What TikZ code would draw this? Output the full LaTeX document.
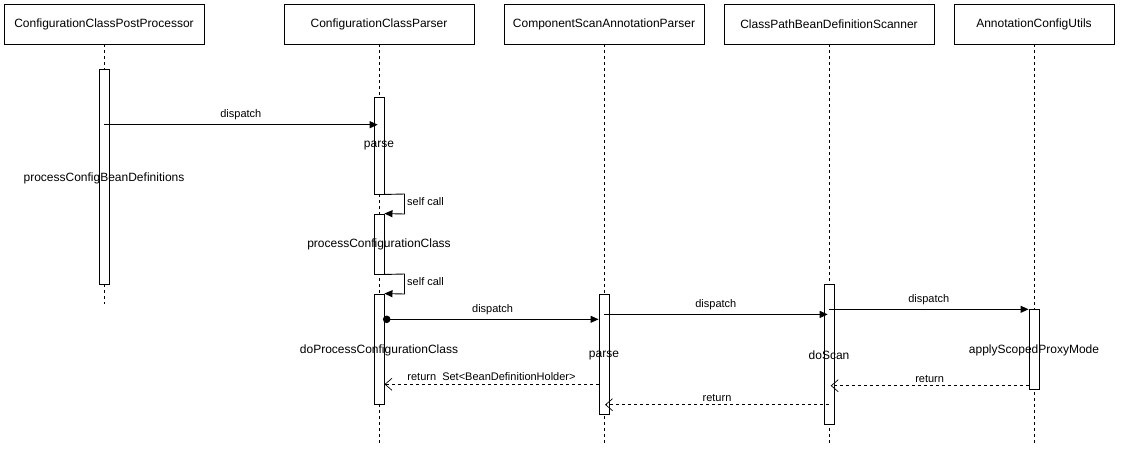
\documentclass[tikz,border=0pt]{standalone}
\usepackage{fontspec}
\setmainfont{Liberation Sans}
\usetikzlibrary{arrows.meta}
\begin{document}
\begin{tikzpicture}[x=1pt,y=-1pt,
  participant/.style={draw,line width=0.9pt,minimum height=40pt,inner sep=0pt,font=\fontsize{12}{14}\selectfont},
  lifeline/.style={line width=0.9pt,dash pattern=on 3pt off 3pt},
  activation/.style={draw,fill=white,line width=0.9pt,minimum width=10pt,inner sep=0pt},
  call/.style={line width=0.9pt,-{Triangle[length=8pt,width=7pt]}},
  reply/.style={line width=0.9pt,dash pattern=on 3pt off 3pt,-{Straight Barb[length=7pt,width=12pt,line width=0.7pt]}},
  msg/.style={font=\fontsize{11}{13}\selectfont,inner sep=1pt},
  activity/.style={font=\fontsize{12}{14}\selectfont,inner sep=0pt}]
\useasboundingbox (0,0) rectangle (1121,451);

% participants
\node[participant,minimum width=200pt] (p1) at (104,24) {ConfigurationClassPostProcessor};
\node[participant,minimum width=190pt] (p2) at (379,24) {ConfigurationClassParser};
\node[participant,minimum width=200pt] (p3) at (604,24) {ComponentScanAnnotationParser};
\node[participant,minimum width=210pt] (p4) at (829,24) {ClassPathBeanDefinitionScanner};
\node[participant,minimum width=160pt] (p5) at (1034,24) {AnnotationConfigUtils};

% lifelines
\coordinate (e1) at (104,304);
\coordinate (e2) at (379,444);
\coordinate (e3) at (604,444);
\coordinate (e4) at (829,444);
\coordinate (e5) at (1034,444);
\draw[lifeline] (p1.south) -- (e1);
\draw[lifeline] (p2.south) -- (e2);
\draw[lifeline] (p3.south) -- (e3);
\draw[lifeline] (p4.south) -- (e4);
\draw[lifeline] (p5.south) -- (e5);

% activation bars
\node[activation,minimum height=215pt] (a1) at (104,176.5) {};
\node[activation,minimum height=97pt]  (a2) at (379,145.5) {};
\node[activation,minimum height=60pt]  (a3) at (379,244) {};
\node[activation,minimum height=110pt] (a4) at (379,349) {};
\node[activation,minimum height=120pt] (a5) at (604,354) {};
\node[activation,minimum height=140pt] (a6) at (829,354.3) {};
\node[activation,minimum height=80pt]  (a7) at (1034,349.3) {};

% activity labels
\node[activity] (t1) at (104,178) {processConfigBeanDefinitions};
\node[activity] (t2) at (379,146) {parse};
\node[activity] (t3) at (379,244) {processConfigurationClass};
\node[activity] (t4) at (379,350) {doProcessConfigurationClass};
\node[activity] (t5) at (604,355.5) {parse};
\node[activity] (t6) at (829,355) {doScan};
\node[activity] (t7) at (1034,350.7) {applyScopedProxyMode};

% message end points
\coordinate (m1s) at (a1.center |- 0,124.7);
\coordinate (m1e) at (377.7,124.7);
\coordinate (s1s) at (a2.south east);
\coordinate (s1a) at (404.5,194);
\coordinate (s1b) at (404.5,214);
\coordinate (s1e) at (a3.north east);
\coordinate (s2s) at (a3.south east);
\coordinate (s2a) at (404.5,274);
\coordinate (s2b) at (404.5,294);
\coordinate (s2e) at (a4.north east);
\coordinate (m2s) at (386.7,319.3);
\coordinate (m2e) at (a5.west |- 0,319.3);
\coordinate (m3s) at (a5.center |- 0,314.4);
\coordinate (m3e) at (827.7,314.4);
\coordinate (m4s) at (a6.center |- 0,309.3);
\coordinate (m4e) at (a7.west |- 0,309.3);
\coordinate (r1s) at (a7.west |- 0,385.7);
\coordinate (r1e) at (830.7,385.7);
\coordinate (r2s) at (a5.west |- 0,384.3);
\coordinate (r2e) at (a4.east |- 0,384.3);
\coordinate (r3s) at (a6.center |- 0,404.7);
\coordinate (r3e) at (605,404.7);

% calls
\draw[call] (m1s) -- node[msg,above=3pt] {dispatch} (m1e);
\draw[call] (s1s) -- (s1a) -- (s1b) -- (s1e);
\node[msg,anchor=west] (l1) at (406,202) {self call};
\draw[call] (s2s) -- (s2a) -- (s2b) -- (s2e);
\node[msg,anchor=west] (l2) at (406,282) {self call};
\fill (m2s) circle (3.8pt);
\draw[call] (m2s) -- node[msg,above=3pt] {dispatch} (m2e);
\draw[call] (m3s) -- node[msg,above=3pt] {dispatch} (m3e);
\draw[call] (m4s) -- node[msg,above=3pt] {dispatch} (m4e);

% replies
\draw[reply] (r1s) -- node[msg,above=2pt] {return} (r1e);
\draw[reply] (r2s) -- node[msg,above=2pt] {return\ \ Set<BeanDefinitionHolder>} (r2e);
\draw[reply] (r3s) -- node[msg,above=2pt] {return} (r3e);
\end{tikzpicture}
\end{document}
